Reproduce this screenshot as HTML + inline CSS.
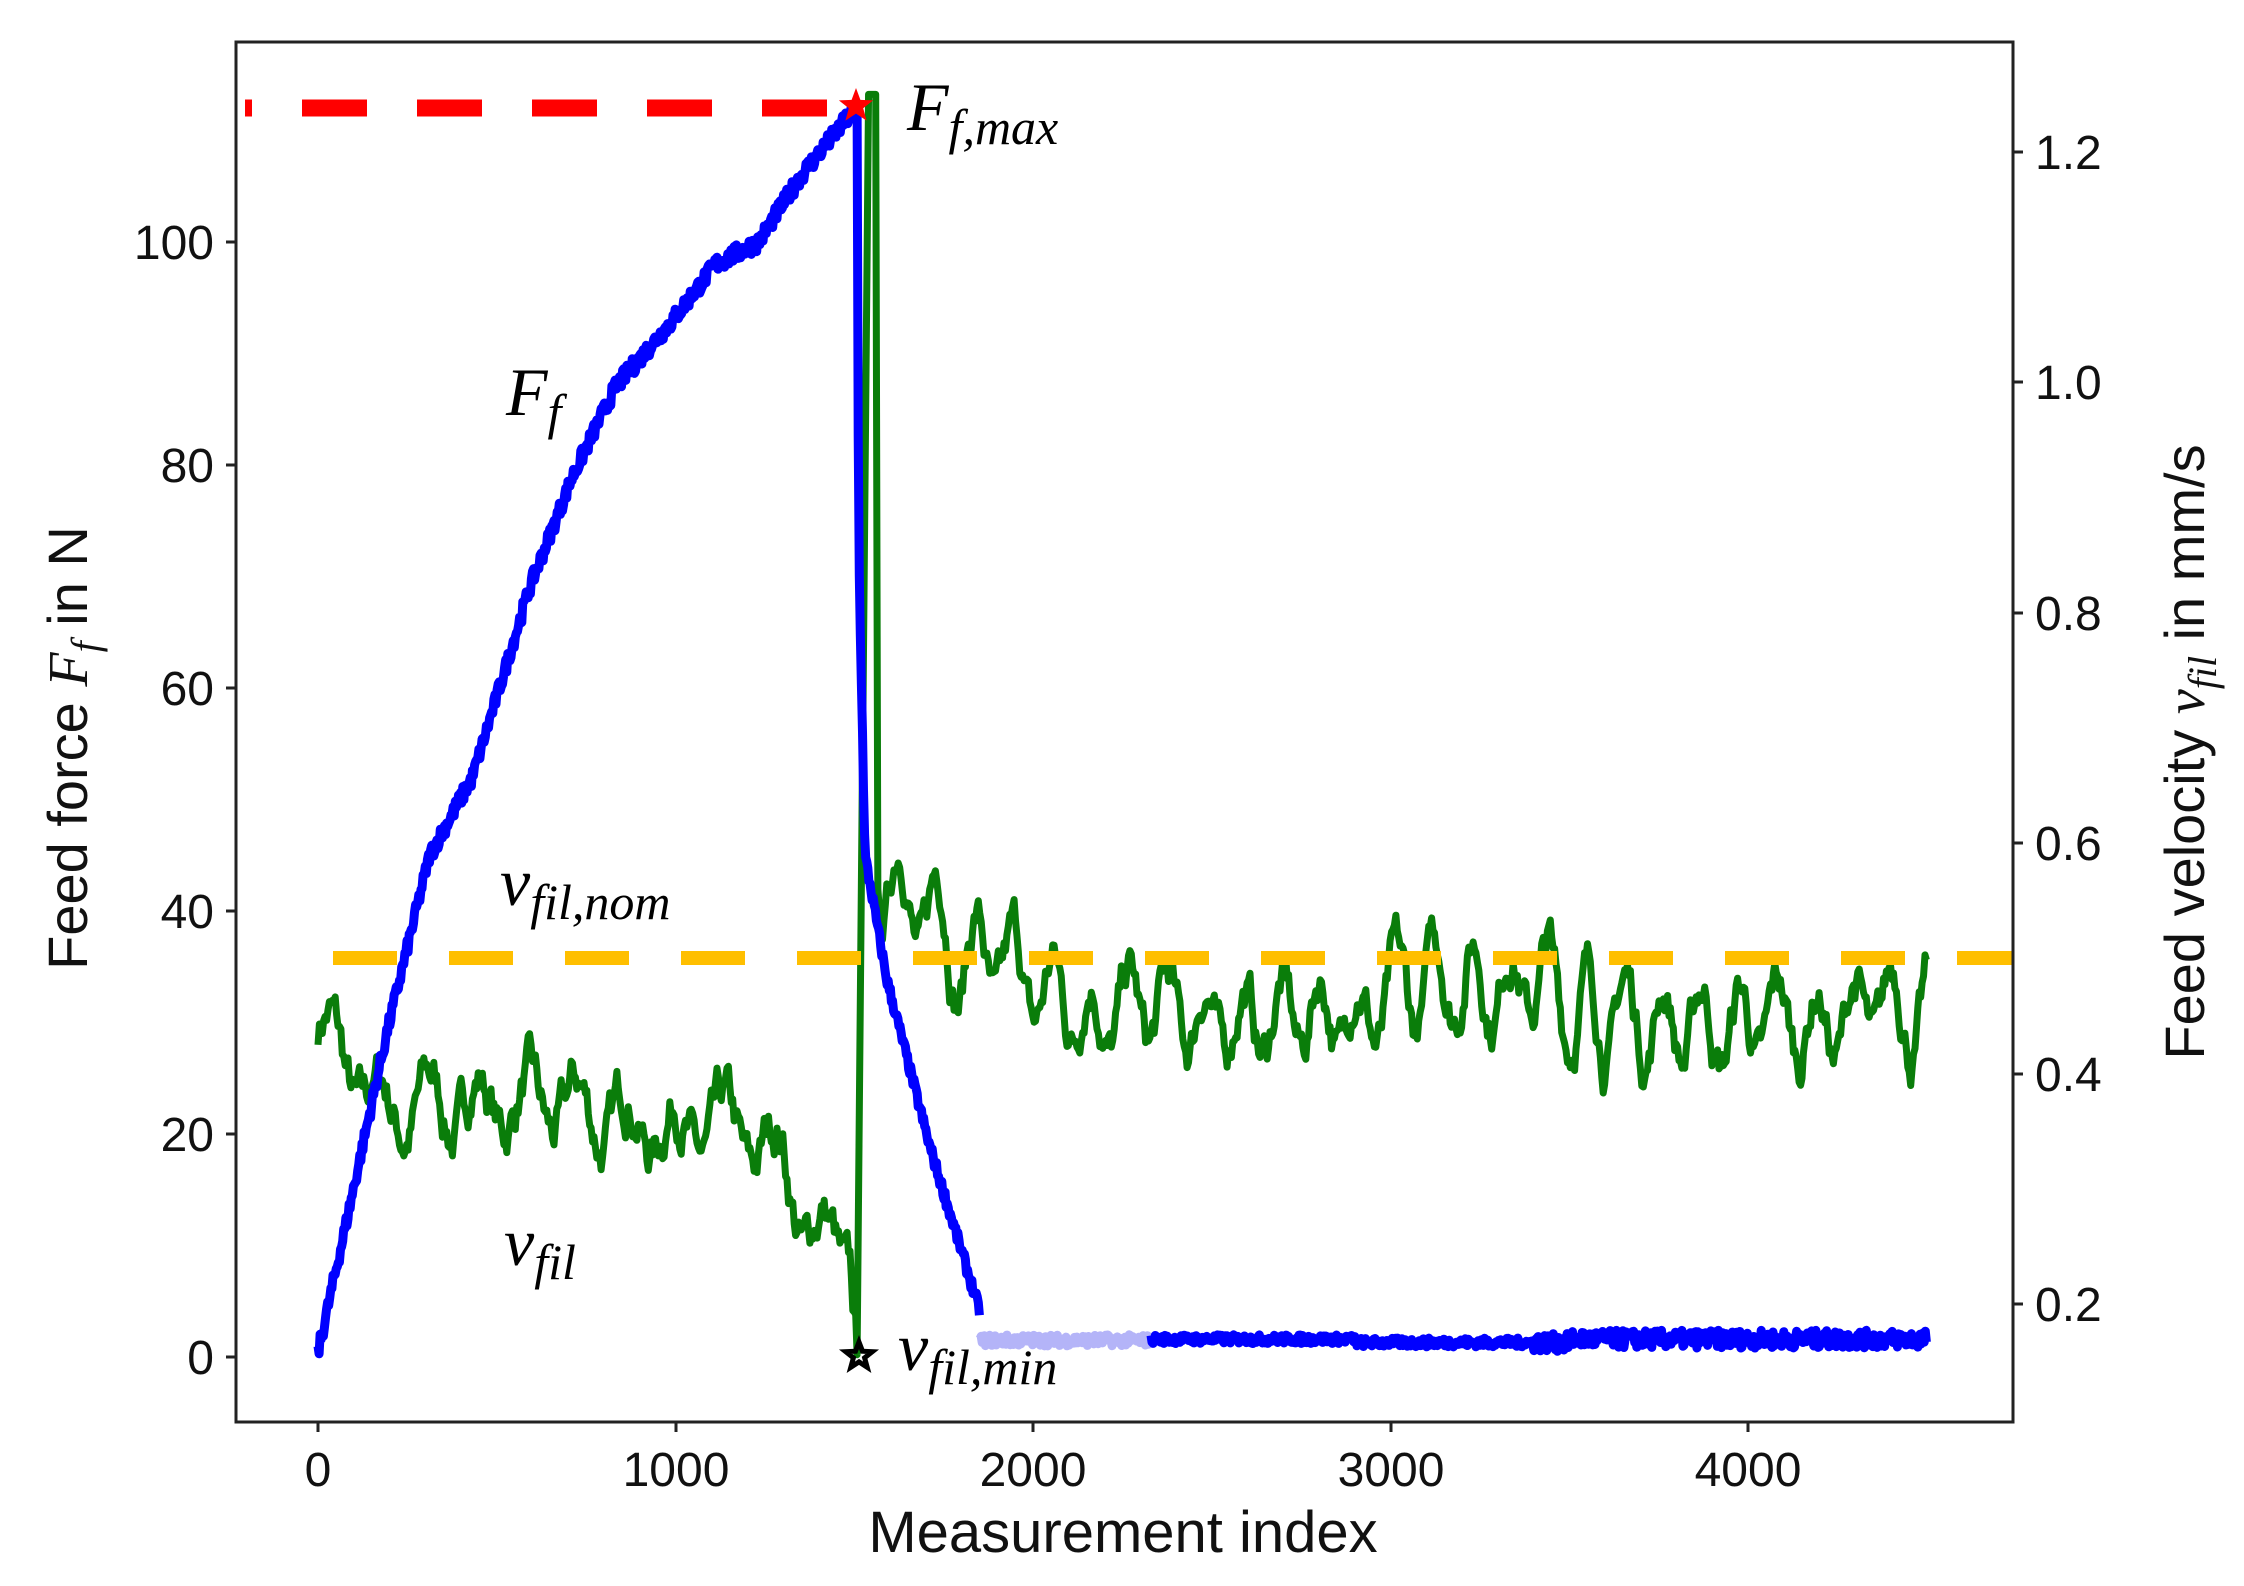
<!DOCTYPE html>
<html><head><meta charset="utf-8"><style>
html,body{margin:0;padding:0;background:#fff}
svg{display:block}
text{font-family:"Liberation Sans",sans-serif}
text.m,tspan.m{font-family:"Liberation Serif",serif;font-style:italic}
</style></head><body>
<svg id="s" width="2244" height="1586" viewBox="0 0 2244 1586" xmlns="http://www.w3.org/2000/svg">
<rect width="2244" height="1586" fill="#fff"/>
<g id="data"></g>
<line x1="245" y1="108" x2="850" y2="108" stroke="#ff0000" stroke-width="17" stroke-dasharray="65 50" stroke-dashoffset="58"/>
<line x1="333" y1="958" x2="2013" y2="958" stroke="#ffbf00" stroke-width="14" stroke-dasharray="64 52"/>
<polygon id="rs" fill="#ff0000"/>
<polygon id="bs" fill="none" stroke="#000" stroke-width="5"/>
<rect x="236" y="42" width="1777" height="1380" fill="none" stroke="#222" stroke-width="3"/>
<g stroke="#222" stroke-width="3">
<line x1="318" y1="1422" x2="318" y2="1432"/><line x1="676" y1="1422" x2="676" y2="1432"/><line x1="1033" y1="1422" x2="1033" y2="1432"/><line x1="1391" y1="1422" x2="1391" y2="1432"/><line x1="1748" y1="1422" x2="1748" y2="1432"/>
<line x1="226" y1="1357" x2="236" y2="1357"/><line x1="226" y1="1134" x2="236" y2="1134"/><line x1="226" y1="911" x2="236" y2="911"/><line x1="226" y1="688" x2="236" y2="688"/><line x1="226" y1="465" x2="236" y2="465"/><line x1="226" y1="242" x2="236" y2="242"/>
<line x1="2013" y1="152" x2="2023" y2="152"/><line x1="2013" y1="382" x2="2023" y2="382"/><line x1="2013" y1="613" x2="2023" y2="613"/><line x1="2013" y1="843" x2="2023" y2="843"/><line x1="2013" y1="1074" x2="2023" y2="1074"/><line x1="2013" y1="1304" x2="2023" y2="1304"/>
</g>
<g font-size="48" fill="#111" text-anchor="middle">
<text x="318" y="1486">0</text><text x="676" y="1486">1000</text><text x="1033" y="1486">2000</text><text x="1391" y="1486">3000</text><text x="1748" y="1486">4000</text>
</g>
<g font-size="48" fill="#111" text-anchor="end">
<text x="214" y="1374">0</text><text x="214" y="1151">20</text><text x="214" y="928">40</text><text x="214" y="705">60</text><text x="214" y="482">80</text><text x="214" y="259">100</text>
</g>
<g font-size="48" fill="#111" text-anchor="start">
<text x="2035" y="169">1.2</text><text x="2035" y="399">1.0</text><text x="2035" y="630">0.8</text><text x="2035" y="860">0.6</text><text x="2035" y="1091">0.4</text><text x="2035" y="1321">0.2</text>
</g>
<text x="1123" y="1552" font-size="58" text-anchor="middle" fill="#111">Measurement index</text>
<text transform="translate(87,748) rotate(-90)" font-size="56" text-anchor="middle" fill="#111">Feed force <tspan class="m">F</tspan><tspan class="m" font-size="40" dy="12">f</tspan><tspan dy="-12"> in N</tspan></text>
<text transform="translate(2204,752) rotate(-90)" font-size="56" text-anchor="middle" fill="#111">Feed velocity <tspan class="m">v</tspan><tspan class="m" font-size="40" dy="12">fil</tspan><tspan dy="-12"> in mm/s</tspan></text>
<text class="m" fill="#000" font-size="68" x="907" y="130">F<tspan class="m" font-size="50" dy="14">f,max</tspan></text>
<text class="m" fill="#000" font-size="68" x="506" y="415">F<tspan class="m" font-size="50" dy="14">f</tspan></text>
<text class="m" fill="#000" font-size="68" x="500" y="905">v<tspan class="m" font-size="50" dy="14">fil,nom</tspan></text>
<text class="m" fill="#000" font-size="68" x="504" y="1265">v<tspan class="m" font-size="50" dy="14">fil</tspan></text>
<text class="m" fill="#000" font-size="68" x="898" y="1370">v<tspan class="m" font-size="50" dy="14">fil,min</tspan></text>
</svg>
<script>
(function(){
var seed=7;function r(){seed=(seed*16807)%2147483647;return seed/2147483647;}
function X(i){return 318+i*0.3575;}
function YL(f){return 1357-f*11.15;}
function YR(v){return 152+(1.2-v)*1152;}
function interp(pts,i){for(var k=0;k<pts.length-1;k++){if(i<=pts[k+1][0]){var a=pts[k],b=pts[k+1];return a[1]+(b[1]-a[1])*(i-a[0])/(b[0]-a[0]);}}return pts[pts.length-1][1];}
var NS="http://www.w3.org/2000/svg",g=document.getElementById('data');
function pl(p,c,w){var e=document.createElementNS(NS,'polyline');e.setAttribute('points',p.join(' '));e.setAttribute('fill','none');e.setAttribute('stroke',c);e.setAttribute('stroke-width',w);e.setAttribute('stroke-linejoin','round');g.appendChild(e);}
var gp=[[0,0.44],[60,0.42],[150,0.37],[500,0.375],[1000,0.355],[1300,0.33],[1360,0.27],[1490,0.24],[1510,0.156]];
var G=[],walk=0;
for(var i=0;i<=1510;i+=4){walk=walk*0.85+(r()-0.5)*0.03;var v=interp(gp,i)+walk+0.025*Math.sin(i/22);if(i>=1506)v=0.156;G.push(X(i).toFixed(1)+','+YR(v).toFixed(1));}
G.push(X(1540)+','+YR(1.25));G.push(X(1560)+','+YR(1.25));G.push(X(1566)+','+YR(0.56));
var tp=[[1570,0.56],[1650,0.55],[1800,0.5],[2000,0.46],[4500,0.45]];
for(var i=1575;i<=4500;i+=4){walk=walk*0.88+(r()-0.5)*0.028;var amp=i<1900?0.04:0.032;var v=interp(tp,i)+walk+amp*Math.sin(i/17)+0.012*Math.sin(i/230);if(i>3100&&i<3450)v+=0.02;G.push(X(i).toFixed(1)+','+YR(v).toFixed(1));}
pl(G,'#0a7d0a',7);
var bp=[[0,0.4],[72,11],[192,29],[312,45],[432,52],[592,69],[712,79],[832,87],[992,93],[1112,98],[1232,100],[1352,106],[1504,112]];
var B=[];
for(var i=0;i<=1504;i+=3){var f=interp(bp,i)+(r()-0.5)*1.6;B.push(X(i).toFixed(1)+','+YL(f).toFixed(1));}
var dp=[[1508,112],[1512,73],[1530,45],[1590,34],[1710,19],[1852,4]];
for(var i=1508;i<=1852;i+=3){var f=interp(dp,i)+(r()-0.5)*1.2;B.push(X(i).toFixed(1)+','+YL(f).toFixed(1));}
pl(B,'#0000ff',9);
var L=[];for(var i=1852;i<=2330;i+=3){var f=1.5+(r()-0.5)*1.0;L.push(X(i).toFixed(1)+','+YL(f).toFixed(1));}
pl(L,'#b4b4f8',9);
var B2=[];for(var i=2330;i<=4500;i+=3){var a=i>3400?1.6:0.8;var f=1.6+(r()-0.5)*a-(i>2900&&i<3500?0.3:0);B2.push(X(i).toFixed(1)+','+YL(f).toFixed(1));}
pl(B2,'#0000ff',9);
function star(cx,cy,R){var p=[];for(var k=0;k<10;k++){var rr=k%2?R*0.42:R;var a=-Math.PI/2+k*Math.PI/5;p.push((cx+rr*Math.cos(a)).toFixed(1)+','+(cy+rr*Math.sin(a)).toFixed(1));}return p.join(' ');}
document.getElementById('rs').setAttribute('points',star(856,106,18));
document.getElementById('bs').setAttribute('points',star(859,1356,14));
})();
</script>
</body></html>
